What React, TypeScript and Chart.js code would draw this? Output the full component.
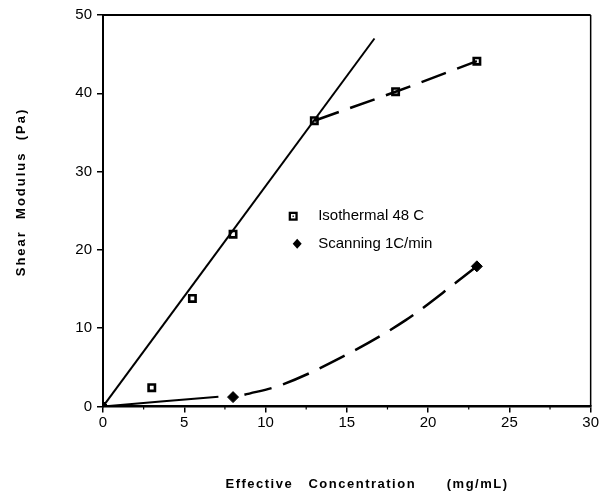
import React, { useEffect, useRef } from "react";
import { Chart, registerables } from "chart.js";

Chart.register(...registerables);

// Data
const isoX = [3, 5.5, 8, 13, 18, 23];
const isoY = [2.4, 13.8, 22.0, 36.5, 40.2, 44.1];
const scanX = [0, 8, 23];
const scanY = [0, 1.2, 17.9];

// fitted lines drawn in the figure
const linearFitX = [0, 16.7];
const linearFitY = [0, 47];
const isoDashX = [13, 18, 23];
const isoDashY = [36.5, 40.2, 44.1];
const scanSolidX = [0, 7.1];
const scanSolidY = [0, 1.25];
const scanDashX = [8.7, 10.9, 14.6, 18.6, 21.7, 23];
const scanDashY = [1.5, 2.7, 6.2, 11.0, 15.8, 17.9];

const xTicks = [0, 5, 10, 15, 20, 25, 30];
const yTicks = [0, 10, 20, 30, 40, 50];
const minorXTicks = [2.5, 7.5, 12.5, 17.5, 22.5, 27.5];

const legendLabels = ["Isothermal 48 C", "Scanning 1C/min"];
const xTitle = "Effective   Concentration      (mg/mL)";
const yTitle = "Shear  Modulus  (Pa)";

const pts = (xs: number[], ys: number[]) => xs.map((x, i) => ({ x, y: ys[i] }));

const FONT = "'Liberation Sans', Arial, Helvetica, sans-serif";

const decorPlugin = {
  id: "decor",
  afterDraw(chart: any) {
    const ctx = chart.ctx;
    const { left, right, top, bottom } = chart.chartArea;
    const xs = chart.scales.x;
    ctx.save();
    // top and right frame
    ctx.strokeStyle = "#000";
    ctx.lineWidth = 2;
    ctx.beginPath();
    ctx.moveTo(left, top);
    ctx.lineTo(right, top);
    ctx.stroke();
    ctx.lineWidth = 1.5;
    ctx.beginPath();
    ctx.moveTo(right, top);
    ctx.lineTo(right, bottom);
    ctx.stroke();
    // minor ticks
    ctx.lineWidth = 1.2;
    minorXTicks.forEach((v) => {
      const px = xs.getPixelForValue(v);
      ctx.beginPath();
      ctx.moveTo(px, bottom);
      ctx.lineTo(px, bottom + 3);
      ctx.stroke();
    });
    // legend
    const lx = xs.getPixelForValue(11.7);
    const ys = chart.scales.y;
    const ly1 = ys.getPixelForValue(24.3);
    const ly2 = ys.getPixelForValue(20.8);
    ctx.fillStyle = "#000";
    ctx.fillRect(lx - 4.5, ly1 - 4.5, 9, 9);
    ctx.fillStyle = "#fff";
    ctx.fillRect(lx - 2.2, ly1 - 2.2, 4.4, 4.4);
    ctx.fillStyle = "#000";
    ctx.fillRect(lx - 0.7, ly1 - 0.7, 1.4, 1.4);
    const dx = lx + 4;
    ctx.beginPath();
    ctx.moveTo(dx, ly2 - 5);
    ctx.lineTo(dx + 4.5, ly2);
    ctx.lineTo(dx, ly2 + 5);
    ctx.lineTo(dx - 4.5, ly2);
    ctx.closePath();
    ctx.fill();
    ctx.font = `15px ${FONT}`;
    ctx.textBaseline = "middle";
    ctx.textAlign = "left";
    ctx.fillText(legendLabels[0], lx + 25, ly1);
    ctx.fillText(legendLabels[1], lx + 25, ly2);
    // axis titles
    ctx.font = `bold 13px ${FONT}`;
    (ctx as any).letterSpacing = "1.5px";
    ctx.textAlign = "center";
    ctx.fillText(xTitle, 367, 484);
    (ctx as any).letterSpacing = "2px";
    ctx.translate(21, 192);
    ctx.rotate(-Math.PI / 2);
    ctx.fillText(yTitle, 0, 0);
    ctx.restore();
  },
};

export default function App() {
  const ref = useRef<HTMLCanvasElement | null>(null);
  useEffect(() => {
    if (!ref.current) return;
    const lineDs = (data: any[], dash: number[], width: number) => ({
      type: "line" as const,
      data,
      showLine: true,
      borderColor: "#000",
      borderWidth: width,
      borderDash: dash,
      pointRadius: 0,
      fill: false,
      cubicInterpolationMode: "monotone",
    });
    const chart = new Chart(ref.current, {
      type: "scatter",
      data: {
        datasets: [
          lineDs(pts(linearFitX, linearFitY), [], 2),
          lineDs(pts(isoDashX, isoDashY), [26, 12], 2.5),
          lineDs(pts(scanSolidX, scanSolidY), [], 2),
          lineDs(pts(scanDashX, scanDashY), [28, 12], 2.5),
          {
            label: legendLabels[0],
            data: pts(isoX, isoY),
            pointStyle: "rect",
            pointRadius: 4.5,
            backgroundColor: "#fff",
            borderColor: "#000",
            borderWidth: 2.6,
          },
          {
            label: legendLabels[1],
            data: pts(scanX, scanY),
            pointStyle: "rectRot",
            pointRadius: 5.5,
            backgroundColor: "#000",
            borderColor: "#000",
            borderWidth: 1,
          },
        ] as any,
      },
      options: {
        animation: false,
        responsive: true,
        maintainAspectRatio: false,
        layout: { padding: { left: 0, top: 15, right: 9, bottom: 0 } },
        plugins: { legend: { display: false }, tooltip: { enabled: false } },
        scales: {
          x: {
            type: "linear",
            min: 0,
            max: 30,
            afterFit: (s: any) => {
              s.height = 84.5;
            },
            afterBuildTicks: (s: any) => {
              s.ticks = xTicks.map((v) => ({ value: v }));
            },
            ticks: {
              color: "#000",
              font: { family: FONT, size: 15 },
              padding: 1,
              maxRotation: 0,
            },
            grid: {
              display: true,
              drawOnChartArea: false,
              drawTicks: true,
              tickLength: 6,
              color: "#000",
              lineWidth: 1.5,
            },
            border: { display: true, color: "#000", width: 2.5 },
          },
          y: {
            type: "linear",
            min: 0,
            max: 50,
            afterFit: (s: any) => {
              s.width = 103;
            },
            afterBuildTicks: (s: any) => {
              s.ticks = yTicks.map((v) => ({ value: v }));
            },
            ticks: {
              color: "#000",
              font: { family: FONT, size: 15 },
              padding: 5,
            },
            grid: {
              display: true,
              drawOnChartArea: false,
              drawTicks: true,
              tickLength: 6,
              color: "#000",
              lineWidth: 1.5,
            },
            border: { display: true, color: "#000", width: 2 },
          },
        },
      } as any,
      plugins: [decorPlugin],
    });
    return () => chart.destroy();
  }, []);
  return (
    <div style={{ position: "absolute", left: 0, top: 0, width: 600, height: 491, background: "#fff" }}>
      <canvas ref={ref} />
    </div>
  );
}
